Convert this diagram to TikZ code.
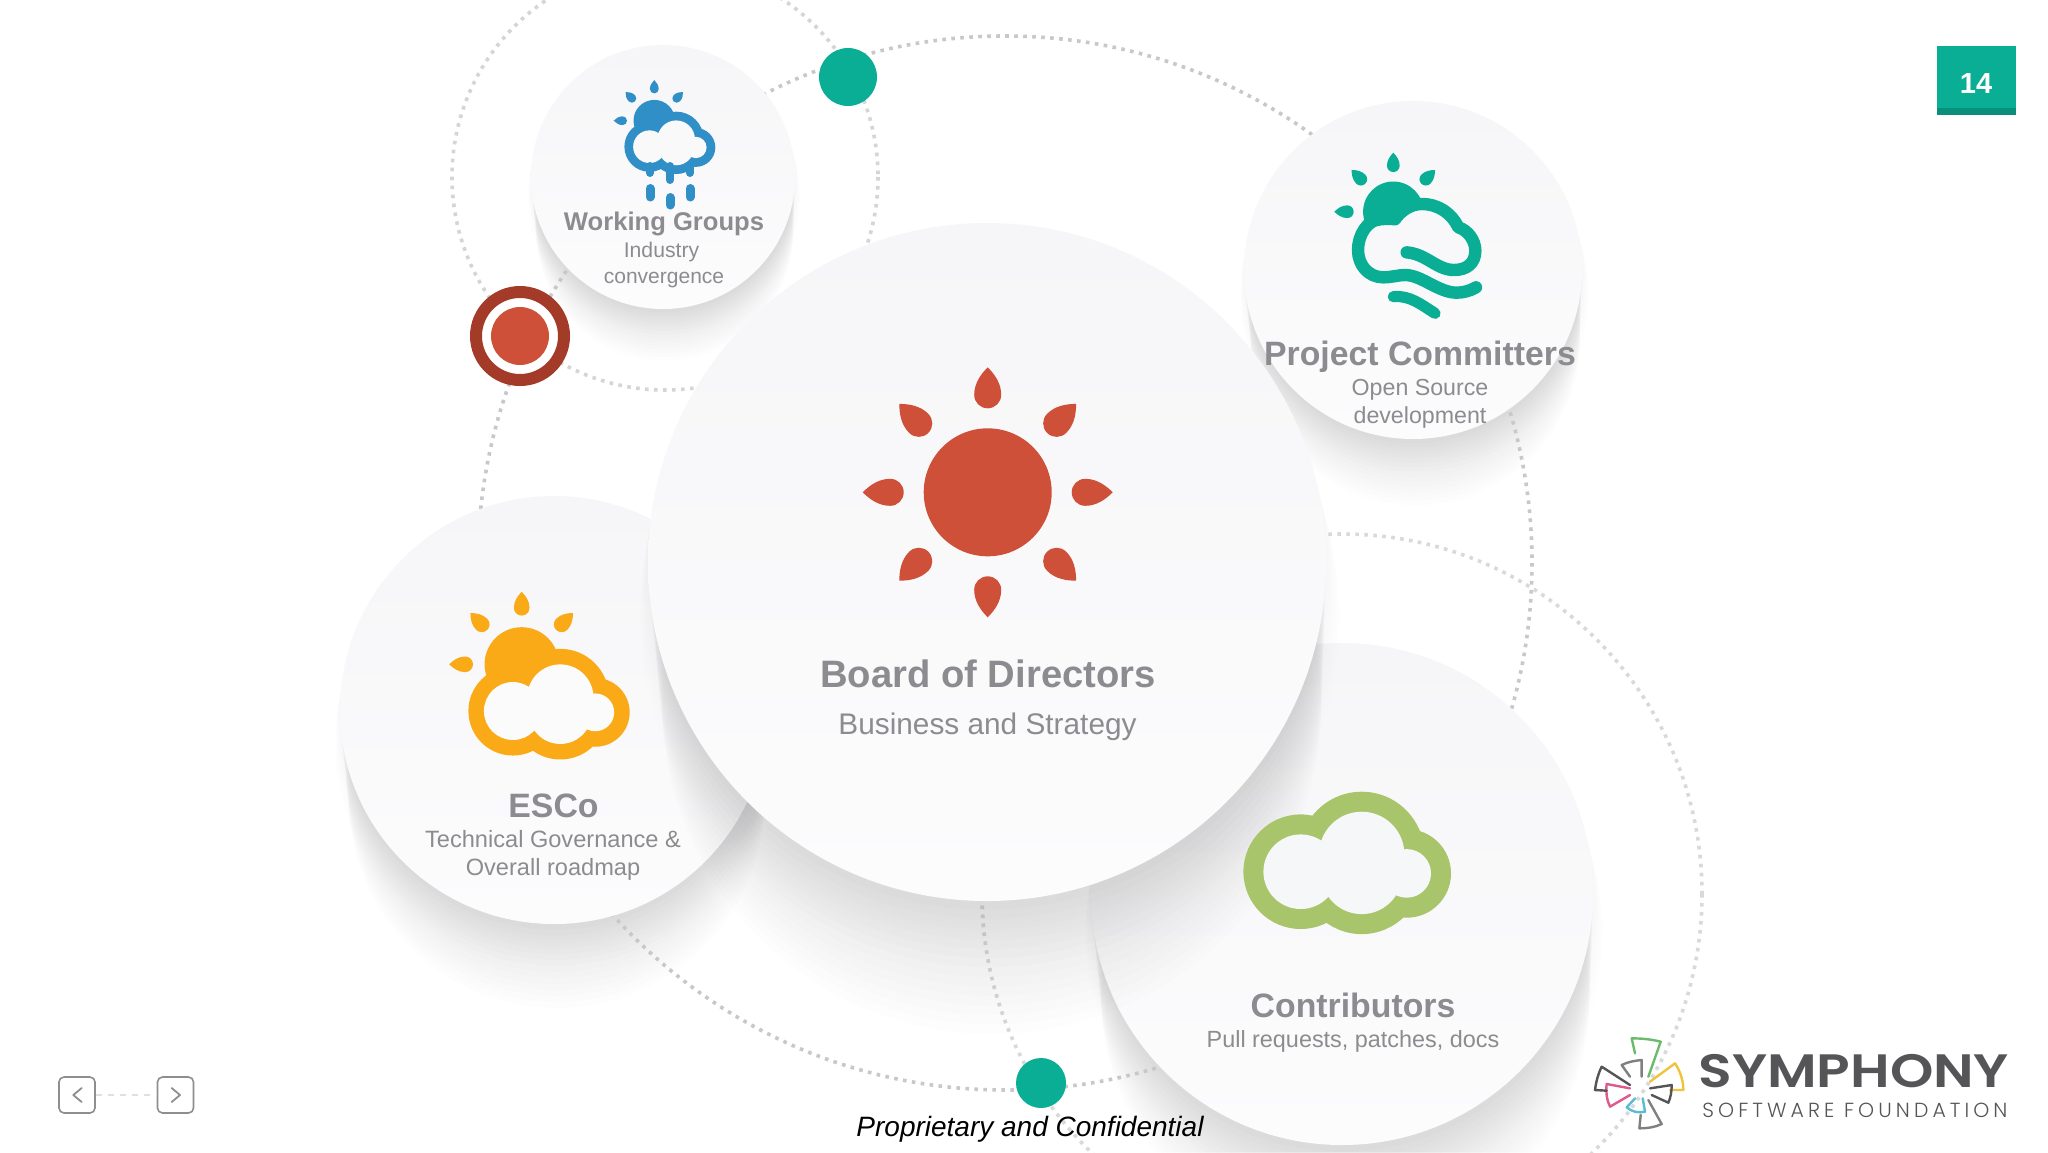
\documentclass[tikz,border=0pt]{standalone}
\usepackage{fontspec}
\usepackage{graphicx}
\setmainfont{Liberation Sans}
\newfontfamily\logobold{Poppins SemiBold}
\newfontfamily\logothin[LetterSpace=20]{Poppins Light}
\definecolor{bubtop}{HTML}{F6F6F8}
\definecolor{bubbot}{HTML}{FCFCFD}
\definecolor{dotA}{HTML}{D5D5D8}
\definecolor{dotB}{HTML}{C8C8CC}
\definecolor{dotC}{HTML}{D9D9DC}
\definecolor{shc}{HTML}{505055}
\definecolor{txt}{HTML}{8C8C90}
\definecolor{tealc}{HTML}{0AAE94}
\definecolor{tealdark}{HTML}{0A8F7A}
\definecolor{redc}{HTML}{CF5038}
\definecolor{ringc}{HTML}{A33B28}
\definecolor{bluec}{HTML}{2F8FC6}
\definecolor{yelc}{HTML}{F9AA16}
\definecolor{grnc}{HTML}{A9C56B}
\definecolor{navc}{HTML}{8E8E8E}
\definecolor{logoc}{HTML}{555558}
\definecolor{bladegreen}{HTML}{6CBB6C}
\definecolor{bladeyellow}{HTML}{EFC33B}
\definecolor{bladecyan}{HTML}{5BBBD3}
\definecolor{bladepink}{HTML}{DC5A8C}
\definecolor{navdash}{HTML}{E0E0E0}
\definecolor{inyel}{HTML}{FBFBFB}
\definecolor{ingrn}{HTML}{F6F7F8}
\definecolor{inblu}{HTML}{F9F9FA}
\definecolor{intea}{HTML}{F8F8FA}
\tikzset{
 bubble/.style={circle,top color=bubtop,bottom color=bubbot,draw=none,inner sep=0pt,minimum size=#1},
 dotline/.style={draw=#1,line width=1.8pt,dash pattern=on 1.8pt off 2.7pt},
 dotdisc/.style={circle,fill=tealc,inner sep=0pt,minimum size=#1},
 lab/.style={anchor=base,inner sep=0pt,text=txt,font=\fontsize{#1}{#1}\selectfont},
 labb/.style={anchor=base,inner sep=0pt,text=txt,font=\fontsize{#1}{#1}\selectfont\bfseries},
 navbtn/.style={draw=navc,line width=.8pt,rounded corners=2.5pt,minimum size=18pt,inner sep=0pt,fill=white},
 blade/.style={draw=#1,line width=1.2pt,line join=round,line cap=round}
}
\newcommand\softshadow[3]{%
 \foreach \k in {1,...,14}{%
  \fill[shc,opacity=.009] ({#1+.001*\k*#3},{#2+.03*\k*#3}) circle[radius={#3*(1-.002*\k)}];}
 \foreach \k in {1,...,8}{%
  \fill[shc,opacity=.005] ({#1+.001*\k*#3},{#2+.02*\k*#3}) circle[radius={#3*(1+.004*\k)}];}}
\newcommand\raydrop[5]{%
 \fill[#5,shift={(#1,#2)},rotate=#4,scale=#3] (0,-125) .. controls (-7,-118) and (-13.5,-109) .. (-13.5,-97.5)
  .. controls (-13.5,-90) and (-7.5,-84) .. (0,-84) .. controls (7.5,-84) and (13.5,-90) .. (13.5,-97.5)
  .. controls (13.5,-109) and (7,-118) .. (0,-125) -- cycle;}
\newcommand\sunpart[4]{% cx cy scale colour
 \fill[#4] (#1,#2) circle[radius={64*#3}];
 \foreach \a in {0,45,-45,90}{\raydrop{#1}{#2}{#3}{\a}{#4}}}
\newcommand\cloudicon[5]{%
 \begin{scope}[shift={(#1,#2)},scale=#3]
  \fill[#4] (-61,0) circle[radius=57.3] (0,-17.3) circle[radius=62.7] (45,1.7) circle[radius=44.3] (0,1.7) circle[radius=60.7];
  \fill[#5] (-61,0) circle[radius=37.3] (0,-17.3) circle[radius=42.7] (45,1.7) circle[radius=24.3] (0,1.7) circle[radius=40.7];
 \end{scope}}
\begin{document}
\begin{tikzpicture}[x=.5pt,y=-.5pt]
\useasboundingbox (0,0) rectangle (2048,1152);
\fill[white] (0,0) rectangle (2048,1152);
% shadows of the outer bubbles
\softshadow{663}{177}{132}
\softshadow{1413}{270}{169}
\softshadow{554}{710}{214}
\softshadow{1342}{894}{251}
% dotted orbits
\draw[dotline=dotA] (665,177) circle[radius=213];
\draw[dotline=dotB] (1005,563) circle[radius=527];
\draw[dotline=dotC] (1342,894) circle[radius=360];
% outer bubbles
\node[bubble=132pt] (wg) at (663,177) {};
\node[bubble=169pt] (pc) at (1413,270) {};
\node[bubble=214pt] (esco) at (554,710) {};
\node[bubble=251pt] (contrib) at (1342,894) {};
% board
\softshadow{987}{562}{339}
\node[bubble=339pt] (board) at (987,562) {};
% sun
\fill[redc] (987.7,492.3) circle[radius=64];
\foreach \a in {0,45,90,135,180,225,270,315}{\raydrop{987.7}{492.3}{1}{\a}{redc}}
% yellow icon
\sunpart{521.7}{664.3}{.58}{yelc}
\cloudicon{560.3}{711}{.777}{yelc}{inyel}
% blue icon
\sunpart{654.3}{120.7}{.325}{bluec}
\cloudicon{676.2}{146.7}{.438}{bluec}{inblu}
\draw[bluec,line width=4pt,line cap=round] (650,166) -- (650,173) (670,166) -- (670,180) (690,166) -- (690,173);
\draw[bluec,line width=4.5pt,line cap=round] (650,188.5) -- (650,197) (670,197.5) -- (670,205) (690,188.5) -- (690,197);
% green icon
\cloudicon{1361.7}{871.7}{1}{grnc}{ingrn}
% teal icon
\sunpart{1393.3}{211.7}{.472}{tealc}
\begin{scope}[shift={(1230,100)},scale=1/3]
 \fill[intea] (495,358) .. controls (510,335) and (540,312) .. (575,312)
  .. controls (625,312) and (665,340) .. (685,382)
  .. controls (712,390) and (736,420) .. (736,452)
  -- (738,562) -- (460,532)
  .. controls (415,532) and (384,495) .. (384,450)
  .. controls (384,405) and (412,360) .. (450,358) -- cycle;
 \draw[tealc,line width=6.2pt,line cap=round,line join=round]
  (530,457) .. controls (590,462) and (620,510) .. (672,510)
  .. controls (710,510) and (736,490) .. (736,452)
  .. controls (736,420) and (712,390) .. (685,382)
  .. controls (665,340) and (625,312) .. (575,312)
  .. controls (540,312) and (510,335) .. (495,358)
  .. controls (480,355) and (465,357) .. (450,358)
  .. controls (412,360) and (384,405) .. (384,450)
  .. controls (384,495) and (415,532) .. (460,532)
  .. controls (485,532) and (505,525) .. (525,525)
  .. controls (575,525) and (625,578) .. (680,578)
  .. controls (700,578) and (722,572) .. (738,562);
 \draw[tealc,line width=5.6pt,line cap=round] (490,590) .. controls (540,585) and (575,615) .. (615,640);
\end{scope}
% markers
\node[circle,fill=white,draw=ringc,line width=6pt,inner sep=0pt,minimum size=44pt] (ring) at (520,336) {};
\node[circle,fill=redc,inner sep=0pt,minimum size=29pt] (core) at (ring.center) {};
\node[dotdisc=29pt] (discA) at (848,77) {};
\node[dotdisc=25pt] (discB) at (1041,1083) {};
% labels
\node[labb=19.1] (t1) at (988,687) {Board of Directors};
\node[lab=14.9] (t2) at (987.5,734) {Business and Strategy};
\node[labb=12.8] (t3) at (664,230) {Working Groups};
\node[lab=10.6] (t4) at (661.5,257) {Industry};
\node[lab=10.5] (t5) at (664,283) {convergence};
\node[labb=16.9] (t6) at (1420,365) {Project Committers};
\node[lab=11.6] (t7) at (1420,395) {Open Source};
\node[lab=11.6] (t8) at (1420,423) {development};
\node[labb=16.9] (t9) at (553.5,817) {ESCo};
\node[lab=11.8] (t10) at (553,847) {Technical Governance \&};
\node[lab=11.8] (t11) at (553,875.5) {Overall roadmap};
\node[labb=16.9] (t12) at (1353,1017) {Contributors};
\node[lab=11.7] (t13) at (1353,1047) {Pull requests, patches, docs};
\node[anchor=base,inner sep=0pt,text=black,font=\fontsize{14}{14}\selectfont\itshape] (t14) at (1030,1136) {Proprietary and Confidential};
% page badge
\fill[tealc] (1937,46) rectangle (2016,108);
\fill[tealdark] (1937,108) rectangle (2016,115);
\node[anchor=base,inner sep=0pt,text=white,font=\fontsize{14.5}{14.5}\selectfont\bfseries] (pg) at (1976,93) {14};
% nav
\node[navbtn] (prev) at (77,1095) {};
\node[navbtn] (next) at (175.5,1095) {};
\draw[draw=navdash,line width=.8pt,dashed] (prev) -- (next);
\draw[navc,line width=.9pt,line cap=round,line join=round] (81.7,1088) -- (73.3,1095) -- (81.7,1102);
\draw[navc,line width=.9pt,line cap=round,line join=round] (171.7,1088) -- (180,1095) -- (171.7,1102);
% logo
\node[anchor=base west,inner sep=0pt,text=logoc,font=\logobold\fontsize{23.4}{23.4}\selectfont] (lg1) at (1698,1087) {\scalebox{1.18}[1]{SYMPHONY}};
\node[anchor=base west,inner sep=0pt,text=logoc,font=\logothin\fontsize{10.2}{10.2}\selectfont] (lg2) at (1702,1117) {SOFTWARE FOUNDATION};
\begin{scope}[shift={(1570,1020)},scale=1/3]
 \draw[blade=bladegreen] (195,100) -- (185,55) .. controls (215,55) and (245,58) .. (272,65) -- (235,170);
 \draw[blade=gray] (180,170) -- (155,135) .. controls (175,125) and (195,122) .. (215,120) -- (215,170);
 \draw[blade=bladeyellow] (240,185) -- (315,130) .. controls (332,155) and (340,185) .. (340,210) -- (300,210);
 \draw[blade=logoc] (240,205) -- (305,195) .. controls (305,215) and (302,232) .. (295,248) -- (245,225);
 \draw[blade=gray] (235,240) -- (275,312) .. controls (255,322) and (230,325) .. (208,325) -- (212,285);
 \draw[blade=bladecyan] (218,235) -- (225,275) .. controls (205,280) and (185,275) .. (170,262) -- (195,235);
 \draw[blade=bladepink] (180,225) -- (120,260) .. controls (110,240) and (107,215) .. (110,192) -- (180,205);
 \draw[blade=logoc] (110,212) -- (75,210) .. controls (78,185) and (85,160) .. (95,140) -- (180,195);
\end{scope}
\end{tikzpicture}
\end{document}
